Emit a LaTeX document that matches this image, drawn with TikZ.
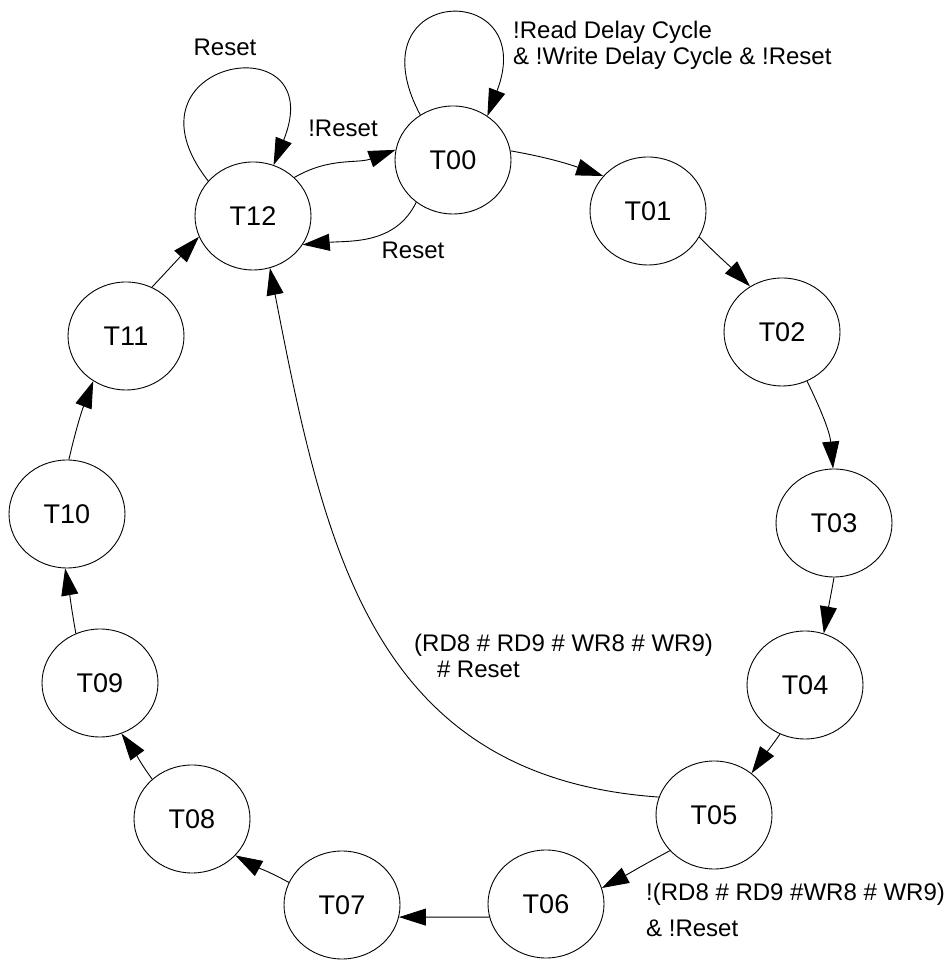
\documentclass[tikz,border=0pt]{standalone}
\usepackage{fontspec}
\setmainfont{Liberation Sans}
\usetikzlibrary{shapes.geometric,arrows.meta}
\begin{document}
\begin{tikzpicture}[x=1pt,y=1pt,
    st/.style={draw,ellipse,line width=0.9pt,minimum width=116pt,minimum height=108pt,
        inner sep=0pt,font=\fontsize{27}{31}\selectfont},
    tr/.style={line width=0.9pt,-{Triangle[length=27pt,width=17pt]}},
    lbl/.style={font=\fontsize{24}{26}\selectfont,inner sep=0pt,align=left}]
    \useasboundingbox (0,0) rectangle (946,960);
    % states
    \node[st] (t00) at (453,800) {T00};
    \node[st] (t01) at (648,749) {T01};
    \node[st] (t02) at (782,628) {T02};
    \node[st] (t03) at (834,437) {T03};
    \node[st] (t04) at (805,275) {T04};
    \node[st] (t05) at (714,145) {T05};
    \node[st] (t06) at (546,56) {T06};
    \node[st] (t07) at (342,55) {T07};
    \node[st] (t08) at (192,141) {T08};
    \node[st] (t09) at (100,277) {T09};
    \node[st] (t10) at (67,446) {T10};
    \node[st] (t11) at (126,624) {T11};
    \node[st] (t12) at (253,744) {T12};
    % the ring
    \draw[tr] (t00.9) to[out=-10,in=161] (t01.142);
    \draw[tr] (t01.-27) to[out=-45,in=135] (t02.125);
    \draw[tr] (t02.-63) to[out=-64,in=95] (t03.91);
    \draw[tr] (t03.-90) to[out=-100,in=80] (t04.70);
    \draw[tr] (t04.-117) to[out=-125,in=55] (t05.48);
    \draw[tr] (t05.219) to[out=208,in=28] (t06.16);
    \draw[tr] (t06.193) to[out=180,in=0] (t07.-12);
    \draw[tr] (t07.157) to[out=151,in=-29] (t08.-40);
    \draw[tr] (t08.135) to[out=126,in=-54] (t09.-67);
    \draw[tr] (t09.116) to[out=100,in=-80] (t10.-92);
    \draw[tr] (t10.88) to[out=77,in=249] (t11.234);
    \draw[tr] (t11.62) to[out=47,in=227] (t12.201);
    % back to T12 and reset
    \draw[tr] (t05.162) to[out=176,in=281,looseness=1.12] (t12.-72);
    \draw[tr] (t12.43) to[out=30,in=200] (t00.170);
    \draw[tr] (t00.229) to[out=244,in=5] (t12.-30);
    \draw[tr] (t12.142) .. controls +(128:155) and +(68:155) .. (t12.68);
    \draw[tr] (t00.126) .. controls +(118:148) and +(69:148) .. (t00.52);
    % labels
    \node[lbl] (lreset12) at (225,913) {Reset};
    \node[lbl] (lnreset) at (343,832) {!Reset};
    \node[lbl] (lreset00) at (413,710) {Reset};
    \node[lbl,anchor=west] (lwait) at (513,915)
        {!Read Delay Cycle\\\& !Write Delay Cycle \& !Reset};
    \node[lbl,anchor=west] (lback) at (414,304)
        {(RD8 \# RD9 \# WR8 \# WR9)\\\hspace*{0.95em}\# Reset};
    \node[lbl,anchor=west] (lnext) at (646,50)
        {!(RD8 \# RD9 \#WR8 \# WR9)\\[10pt]\& !Reset};
\end{tikzpicture}
\end{document}
